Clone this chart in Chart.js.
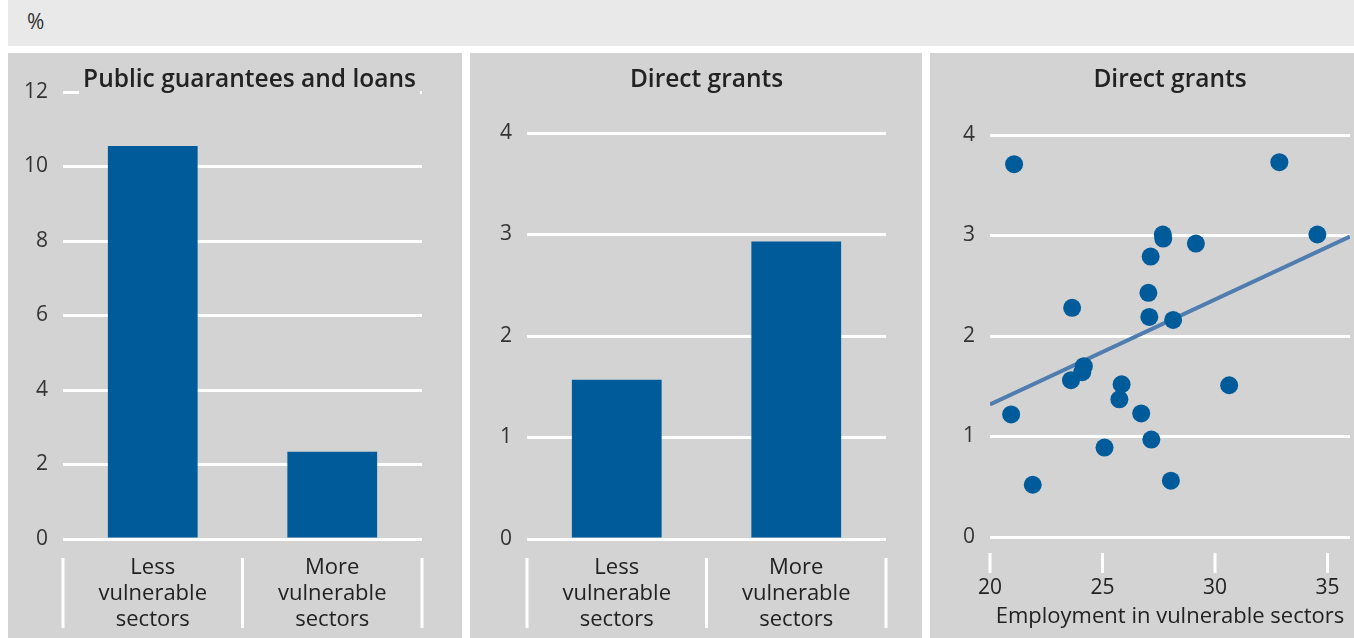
<!DOCTYPE html>
<html>
<head>
<meta charset="utf-8">
<script src="https://cdn.jsdelivr.net/npm/chart.js@4.4.1/dist/chart.umd.min.js"></script>
<style>
  body { margin: 0; background: #fff; width: 1354px; height: 638px; overflow: hidden; font-family: 'Open Sans', sans-serif; }
  .strip { position: absolute; left: 8px; top: 0; width: 1346px; height: 46px; background: #e9e9e9; }
  .strip span { position: absolute; left: 19px; top: 7px; font-size: 21px; color: #333; }
  .panel { position: absolute; top: 53px; height: 585px; background: #d3d3d3; }
</style>
</head>
<body>
<div class="strip"><span>%</span></div>
<div class="panel" style="left:8px;width:454px"><canvas id="c1"></canvas></div>
<div class="panel" style="left:470px;width:452px"><canvas id="c2"></canvas></div>
<div class="panel" style="left:930px;width:424px"><canvas id="c3"></canvas></div>
<script>
// data
const categories = [['Less', 'vulnerable', 'sectors'], ['More', 'vulnerable', 'sectors']];
const guaranteesLoans = [10.55, 2.34];
const directGrants = [1.57, 2.93];

const employment = [21.07, 32.86, 34.55, 27.68, 27.7, 29.15, 27.14, 27.04, 23.65, 27.08, 28.14,
  24.17, 24.1, 23.6, 25.85, 25.75, 30.63, 20.94, 26.72, 27.17, 25.09, 21.9, 28.04];
const grantShare = [3.71, 3.73, 3.01, 3.01, 2.97, 2.92, 2.79, 2.43, 2.28, 2.19, 2.16,
  1.70, 1.64, 1.56, 1.52, 1.37, 1.51, 1.22, 1.23, 0.97, 0.89, 0.52, 0.56];
const trendX = [20, 36];
const trendY = [1.32, 2.99];

const BLUE = '#005b9b';
const PANEL_BG = '#d3d3d3';

Chart.defaults.font.family = "'Open Sans', sans-serif";
Chart.defaults.font.size = 21;
Chart.defaults.color = '#333';
Chart.defaults.animation = false;

// title drawn over the plot, with a patch of panel colour behind it
const panelTitle = {
  id: 'panelTitle',
  afterDraw(chart, args, opts) {
    const ctx = chart.ctx;
    const ca = chart.chartArea;
    const x = (ca.left + ca.right) / 2 + (opts.dx || 0);
    ctx.save();
    ctx.font = "600 24.5px 'Open Sans', sans-serif";
    const w = ctx.measureText(opts.text).width;
    ctx.fillStyle = PANEL_BG;
    ctx.fillRect(x - w / 2 - 4, opts.y - 16, w + 8, 32);
    ctx.fillStyle = '#222';
    ctx.textAlign = 'center';
    ctx.textBaseline = 'middle';
    ctx.fillText(opts.text, x, opts.y);
    ctx.restore();
  }
};

// white vertical separators between category labels
const separators = {
  id: 'separators',
  afterDraw(chart) {
    const xs = chart.scales.x;
    const n = chart.data.labels.length;
    const p0 = xs.getPixelForValue(0);
    const step = xs.getPixelForValue(1) - p0;
    const b = chart.chartArea.bottom;
    const ctx = chart.ctx;
    ctx.save();
    ctx.strokeStyle = '#fff';
    ctx.lineWidth = 3;
    for (let i = 0; i <= n; i++) {
      const x = p0 - step / 2 + i * step;
      ctx.beginPath();
      ctx.moveTo(x, b + 19);
      ctx.lineTo(x, b + 89);
      ctx.stroke();
    }
    ctx.restore();
  }
};

// short white tick marks under scatter x axis
const xTickMarks = {
  id: 'xTickMarks',
  afterDraw(chart) {
    const xs = chart.scales.x;
    const b = chart.chartArea.bottom;
    const ctx = chart.ctx;
    ctx.save();
    ctx.strokeStyle = '#fff';
    ctx.lineWidth = 3;
    xs.ticks.forEach(t => {
      const x = xs.getPixelForValue(t.value);
      ctx.beginPath();
      ctx.moveTo(x, b + 16);
      ctx.lineTo(x, b + 36);
      ctx.stroke();
    });
    ctx.restore();
  }
};

function barChart(id, values, max, step, title, dx, pad, yWidth) {
  return new Chart(document.getElementById(id), {
    type: 'bar',
    data: {
      labels: categories,
      datasets: [{ data: values, backgroundColor: BLUE, barPercentage: 0.5, categoryPercentage: 1 }]
    },
    options: {
      responsive: true,
      maintainAspectRatio: false,
      layout: { padding: pad },
      plugins: { legend: { display: false }, tooltip: { enabled: false }, panelTitle: { text: title, y: 27, dx: dx } },
      scales: {
        x: {
          grid: { display: false },
          border: { display: false },
          ticks: { padding: 8, color: '#222', font: { size: 22, lineHeight: 26 / 22 } },
          afterFit: s => { s.height = 99; }
        },
        y: {
          min: 0, max: max,
          ticks: { stepSize: step, padding: 15 },
          grid: { color: '#fff', lineWidth: 3, drawTicks: false },
          border: { display: false },
          afterFit: s => { s.width = yWidth; }
        }
      }
    },
    plugins: [panelTitle, separators]
  });
}

barChart('c1', guaranteesLoans, 12, 2, 'Public guarantees and loans', 7, { top: 39, right: 40, left: 0, bottom: 0 }, 55);
barChart('c2', directGrants, 4, 1, 'Direct grants', 0, { top: 80, right: 36, left: 0, bottom: 0 }, 57);

new Chart(document.getElementById('c3'), {
  type: 'scatter',
  data: {
    datasets: [
      {
        data: employment.map((x, i) => ({ x: x, y: grantShare[i] })),
        backgroundColor: BLUE, borderWidth: 0, pointRadius: 9, order: 1
      },
      {
        type: 'line',
        data: trendX.map((x, i) => ({ x: x, y: trendY[i] })),
        borderColor: '#4f7db0', borderWidth: 4, pointRadius: 0, fill: false, order: 2
      }
    ]
  },
  options: {
    responsive: true,
    maintainAspectRatio: false,
    layout: { autoPadding: false, padding: { top: 82, right: 4, left: 0, bottom: 0 } },
    plugins: { legend: { display: false }, tooltip: { enabled: false }, panelTitle: { text: 'Direct grants', y: 27 } },
    scales: {
      x: {
        type: 'linear',
        min: 20, max: 36,
        ticks: { stepSize: 5, includeBounds: false, padding: 30, color: '#222' },
        grid: { display: false },
        border: { display: false },
        title: { display: true, text: 'Employment in vulnerable sectors', color: '#222', font: { size: 22 }, padding: { top: 0, bottom: 8 } },
        afterFit: s => { s.height = 101; s.paddingLeft = 0; s.paddingRight = 0; }
      },
      y: {
        min: 0, max: 4,
        ticks: { stepSize: 1, padding: 15 },
        grid: { color: '#fff', lineWidth: 3, drawTicks: false },
        border: { display: false },
        afterFit: s => { s.width = 60; }
      }
    }
  },
  plugins: [panelTitle, xTickMarks]
});
</script>
</body>
</html>
